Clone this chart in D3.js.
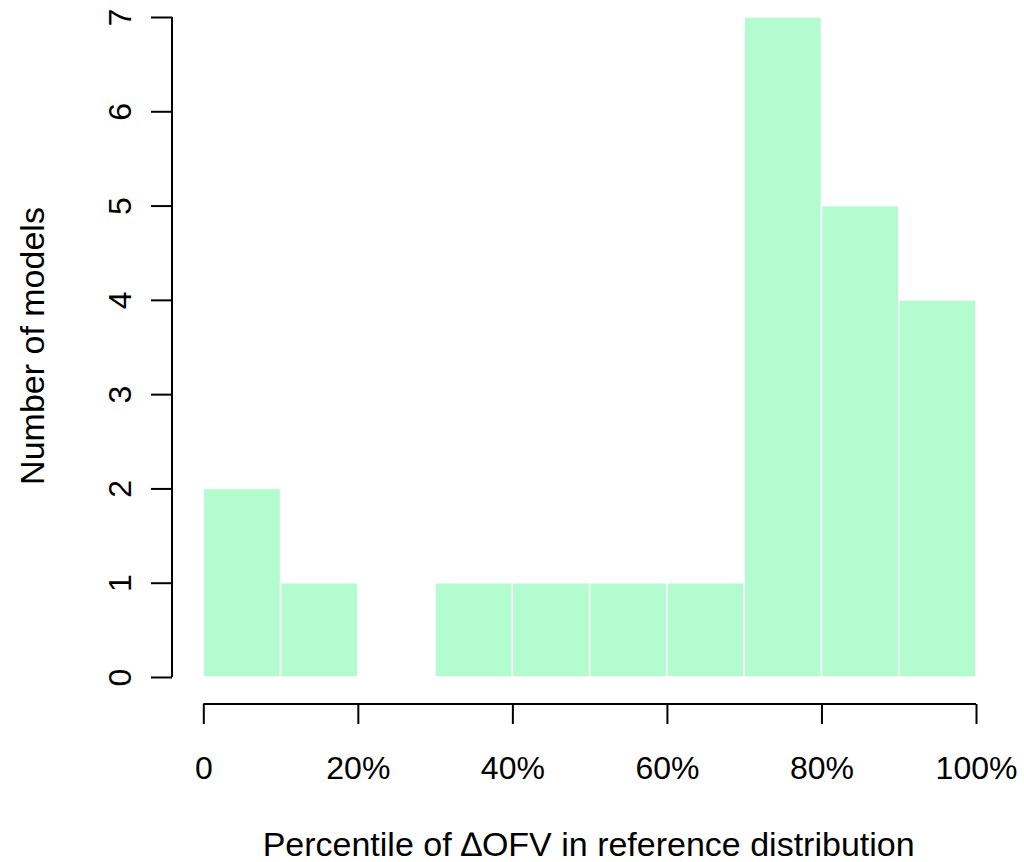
<!DOCTYPE html>
<html>
<head>
<meta charset="utf-8">
<script src="https://cdn.jsdelivr.net/npm/d3@7"></script>
<style>
  body { margin: 0; background: #fff; }
  text { font-family: "Liberation Sans", Arial, sans-serif; fill: #000; }
</style>
</head>
<body>
<div id="chart"></div>
<script>
// histogram bins (percentile, in 10% steps) and counts
var binStarts = [0, 10, 20, 30, 40, 50, 60, 70, 80, 90];
var counts = [2, 1, 0, 1, 1, 1, 1, 7, 5, 4];
var xTicks = [0, 20, 40, 60, 80, 100];
var yTicks = [0, 1, 2, 3, 4, 5, 6, 7];

var width = 1024, height = 862;
var fs = 32, fsLab = 34;

var svg = d3.select('#chart').append('svg')
  .attr('width', width)
  .attr('height', height);

var x = d3.scaleLinear().domain([0, 100]).range([203.3, 976]);
var y = d3.scaleLinear().domain([0, 7]).range([677, 17]);

// bars
svg.selectAll('rect.bar')
  .data(binStarts.map(function (b, i) { return {x0: b, x1: b + 10, n: counts[i]}; }))
  .enter().append('rect')
    .attr('class', 'bar')
    .attr('x', function (d) { return x(d.x0); })
    .attr('width', function (d) { return x(d.x1) - x(d.x0); })
    .attr('y', function (d) { return y(d.n); })
    .attr('height', function (d) { return y(0) - y(d.n); })
    .attr('fill', '#b3fccf')
    .attr('stroke', '#fff')
    .attr('stroke-width', 1.5);

// y axis (R style, detached)
var yAxis = d3.axisLeft(y).tickValues(yTicks).tickSize(21).tickFormat(d3.format('d'));
var gy = svg.append('g').attr('transform', 'translate(172,0)').call(yAxis);
gy.attr('font-size', fs).attr('font-family', null);
gy.select('.domain').attr('d', 'M0,' + y(0) + 'V' + y(7)).attr('stroke-width', 2);
gy.selectAll('.tick line').attr('stroke-width', 2);
gy.selectAll('.tick text')
  .attr('x', 0).attr('dy', null)
  .attr('text-anchor', 'middle')
  .attr('transform', 'translate(-52,0) rotate(-90)')
  .attr('dominant-baseline', 'central');

// x axis
var xAxis = d3.axisBottom(x).tickValues(xTicks).tickSize(20)
  .tickFormat(function (d) { return d === 0 ? '0' : d + '%'; });
var gx = svg.append('g').attr('transform', 'translate(0,704)').call(xAxis);
gx.attr('font-size', fs).attr('font-family', null);
gx.select('.domain').attr('d', 'M' + x(0) + ',0H' + x(100)).attr('stroke-width', 2);
gx.selectAll('.tick line').attr('stroke-width', 2);
gx.selectAll('.tick text').attr('y', 64).attr('dy', '0.35em');

// titles
svg.append('text')
  .attr('x', (x(0) + x(100)) / 2 - 1)
  .attr('y', 856)
  .attr('text-anchor', 'middle')
  .attr('font-size', fsLab)
  .text('Percentile of \u2206OFV in reference distribution');

svg.append('text')
  .attr('transform', 'translate(32,' + ((y(0) + y(7)) / 2 - 1) + ') rotate(-90)')
  .attr('dy', '0.35em')
  .attr('text-anchor', 'middle')
  .attr('font-size', fsLab)
  .text('Number of models');
</script>
</body>
</html>
